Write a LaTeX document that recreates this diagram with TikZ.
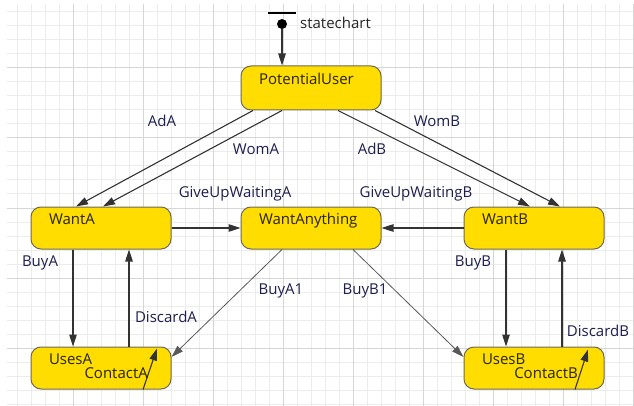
\documentclass[tikz,border=0pt]{standalone}
\usepackage{fontspec}
\setmainfont{Open Sans}
\usetikzlibrary{arrows.meta,calc}

\definecolor{stfill}{RGB}{255,221,0}
\definecolor{stline}{RGB}{110,105,85}
\definecolor{sttext}{RGB}{40,35,10}
\definecolor{lbltext}{RGB}{30,30,80}
\definecolor{gridmin}{RGB}{236,236,236}
\definecolor{gridmaj}{RGB}{214,214,214}

\begin{document}
\begin{tikzpicture}[x=1pt,y=-1pt,
    state/.style={draw=stline, fill=stfill, line width=1pt, rounded corners=10pt,
      minimum width=140pt, minimum height=42pt, text width=104pt, inner xsep=18pt,
      inner ysep=0pt, align=left, text height=17pt, text depth=25pt, text=sttext,
      font=\fontsize{15}{17}\selectfont},
    trans/.style={draw=black!80, line width=1.1pt, -{Triangle[length=12pt,width=7.5pt]}},
    thintrans/.style={trans, draw=black!65, line width=0.8pt},
    lbl/.style={text=lbltext, inner sep=0pt, anchor=base, font=\fontsize{15}{17}\selectfont},
    gridline/.style={draw=gridmin, line width=1pt},
    gridmajor/.style={draw=gridmaj, line width=1pt}]

  \fill[white] (0,0) rectangle (634,406);
  \useasboundingbox (0,0) rectangle (634,406);

  % grid
  \foreach \gx in {17,31,...,633} \draw[gridline] (\gx,4) -- (\gx,406);
  \foreach \gy in {12,26,...,404} \draw[gridline] (7,\gy) -- (634,\gy);
  \foreach \gx in {73,143,...,633} \draw[gridmajor] (\gx,4) -- (\gx,406);
  \foreach \gy in {68,138,...,348} \draw[gridmajor] (7,\gy) -- (634,\gy);

  % states
  \node[state, minimum height=44pt, text height=19pt] (pu) at (311,88) {PotentialUser};
  \node[state] (wantA) at (101,228) {WantA};
  \node[state] (wantAny) at (311,228) {WantAnything};
  \node[state] (wantB) at (534,228) {WantB};
  \node[state] (usesA) at (101,368) {UsesA};
  \node[state] (usesB) at (534,368) {UsesB};

  % initial pointer
  \coordinate (bar) at (282,13);
  \draw[line width=2.5pt] ($(bar)+(-14,0)$) -- ($(bar)+(14,0)$);
  \node[circle, fill=black, inner sep=0pt, minimum size=10pt] (init) at (282,24) {};
  \draw[trans] (init) -- (pu.north -| init);
  \node[lbl, anchor=base west, text=black!85] (scLbl) at (300,29) {statechart};

  % transitions
  \draw[trans] ($(pu.south)+(-58,0)$) -- ($(wantA.north)+(-25,0)$) node[lbl] (lblAdA) at (162,127) {AdA};
  \draw[trans] ($(pu.south)+(-29,0)$) -- ($(wantA.north)+(2,0)$) node[lbl] (lblWomA) at (256,155) {WomA};
  \draw[trans] ($(pu.south)+(27,0)$) -- ($(wantB.north)+(-4,0)$) node[lbl] (lblAdB) at (372,155) {AdB};
  \draw[trans] ($(pu.south)+(64,0)$) -- ($(wantB.north)+(26,0)$) node[lbl] (lblWomB) at (437,127) {WomB};

  \draw[trans] (wantA.east) -- (wantAny.west) node[lbl] (lblGiveA) at (235,197) {GiveUpWaitingA};
  \draw[trans] (wantB.west) -- (wantAny.east) node[lbl] (lblGiveB) at (416,197) {GiveUpWaitingB};

  \draw[trans] ($(wantA.south)+(-28,0)$) -- ($(usesA.north)+(-28,0)$) node[lbl] (lblBuyA) at (40,266) {BuyA};
  \draw[trans] ($(usesA.north)+(28,0)$) -- ($(wantA.south)+(28,0)$) node[lbl] (lblDiscA) at (166,322) {DiscardA};
  \draw[trans] ($(wantB.south)+(-28,0)$) -- ($(usesB.north)+(-28,0)$) node[lbl] (lblBuyB) at (473,266) {BuyB};
  \draw[trans] ($(usesB.north)+(28,0)$) -- ($(wantB.south)+(28,0)$) node[lbl] (lblDiscB) at (598,336) {DiscardB};

  \draw[thintrans] ($(wantAny.south)+(-29,0)$) -- ($(usesA.east)+(0,-11)$) node[lbl] (lblBuyA1) at (281,294) {BuyA1};
  \draw[thintrans] ($(wantAny.south)+(42,0)$) -- ($(usesB.west)+(0,-11)$) node[lbl] (lblBuyB1) at (365,294) {BuyB1};

  % internal transitions
  \coordinate (cAfrom) at ($(usesA.south)+(42,0)$);
  \coordinate (cAto) at ($(usesA.north)+(56,2)$);
  \draw[trans] (cAfrom) -- (cAto);
  \node[lbl, anchor=base east, text=sttext] (lblContA) at (148,378) {ContactA};
  \coordinate (cBfrom) at ($(usesB.south)+(41,0)$);
  \coordinate (cBto) at ($(usesB.north)+(54,3)$);
  \draw[trans] (cBfrom) -- (cBto);
  \node[lbl, anchor=base east, text=sttext] (lblContB) at (578,378) {ContactB};

\end{tikzpicture}
\end{document}
